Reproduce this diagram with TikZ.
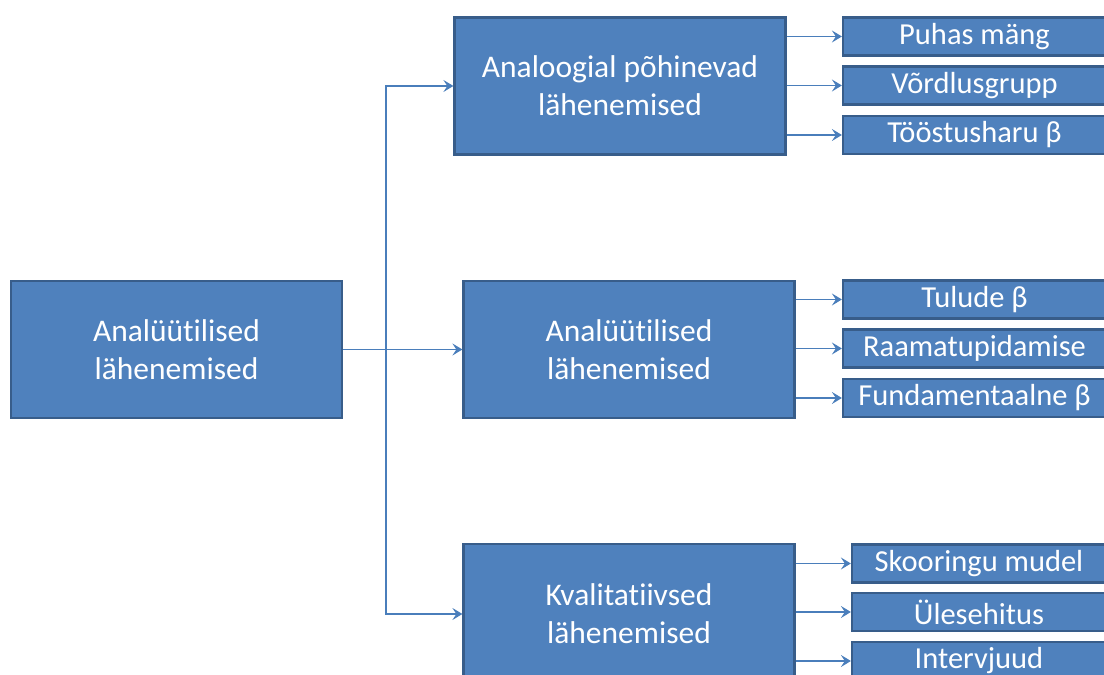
\documentclass[tikz,border=0pt]{standalone}
\usepackage{fontspec}
\setmainfont{Carlito}[Ligatures=NoCommon]
\usetikzlibrary{arrows.meta}
\definecolor{boxfill}{HTML}{4F81BD}
\definecolor{boxline}{HTML}{385D8A}
\definecolor{conn}{HTML}{4A7EBB}
\begin{document}
\begin{tikzpicture}[x=1pt,y=1pt,
  bigbox/.style={draw=boxline,line width=2.2pt,fill=boxfill,text=white,align=center,
    minimum width=331pt,minimum height=137pt,inner sep=0pt,
    font=\fontsize{31.5}{38}\selectfont},
  smallbox/.style={draw=boxline,line width=2.2pt,fill=boxfill,text=white,align=center,
    minimum height=38pt,inner sep=0pt,font=\fontsize{30.5}{34}\selectfont},
  arr/.style={draw=conn,line width=1.1pt,-{Stealth[length=10pt,width=12pt,inset=4pt]}}]
\useasboundingbox (0,0) rectangle (1104,675);
\clip (0,0) rectangle (1104,675);
\node[bigbox] (L) at (176.5,325.5) {Analüütilised\\lähenemised};
\node[bigbox] (A) at (620,589) {Analoogial põhinevad\\lähenemised};
\node[bigbox] (B) at (629,325.5) {Analüütilised\\lähenemised};
\node[bigbox,minimum height=140pt] (C) at (629,61) {Kvalitatiivsed\\lähenemised};
% top group
\node[smallbox,minimum width=263pt] (A1) at (974.5,638.5) {Puhas mäng};
\node[smallbox,minimum width=263pt] (A2) at (974.5,589.5) {Võrdlusgrupp};
\node[smallbox,minimum width=263pt] (A3) at (974.5,540) {Tööstusharu β};
% middle group
\node[smallbox,minimum width=263pt] (B1) at (974.5,375.5) {Tulude β};
\node[smallbox,minimum width=263pt] (B2) at (974.5,326.5) {Raamatupidamise};
\node[smallbox,minimum width=263pt] (B3) at (974.5,277) {Fundamentaalne β};
% bottom group
\node[smallbox,minimum width=254pt] (C1) at (979,111.5) {Skooringu mudel};
\node[smallbox,minimum width=254pt] (C2) at (979,63) {Ülesehitus};
\node[smallbox,minimum width=254pt] (C3) at (979,14) {Intervjuud};
% trunk
\coordinate (J) at (386,325.5);
\draw[arr] (L.east) -- (B.west);
\draw[arr] (J) |- (A.west);
\draw[arr] (J) |- (C.west);
\foreach \s/\t in {A/A1,A/A2,A/A3,B/B1,B/B2,B/B3,C/C1,C/C2,C/C3}
  \draw[arr] (\s.east |- \t.west) -- (\t.west);
\end{tikzpicture}
\end{document}
